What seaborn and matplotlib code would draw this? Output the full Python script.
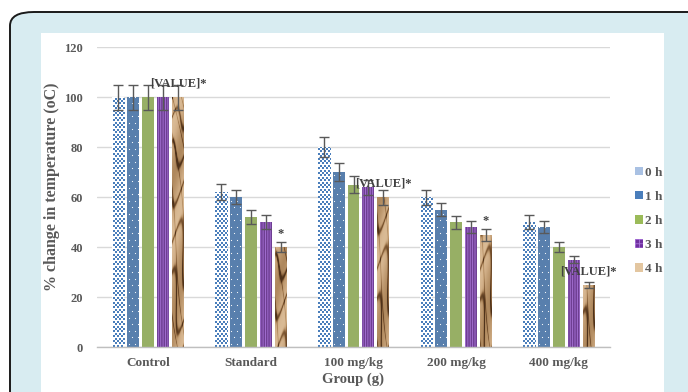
import numpy as np
import pandas as pd
import matplotlib
matplotlib.use("Agg")
import matplotlib.pyplot as plt
import seaborn as sns
from matplotlib.patches import FancyBboxPatch, Rectangle, Patch
from matplotlib.colors import LinearSegmentedColormap

# ---- data ----
groups = ["Control", "Standard", "100 mg/kg", "200 mg/kg", "400 mg/kg"]
times = ["0 h", "1 h", "2 h", "3 h", "4 h"]
values = {
    "0 h": [100, 62, 80, 60, 50],
    "1 h": [100, 60, 70, 55, 48],
    "2 h": [100, 52, 65, 50, 40],
    "3 h": [100, 50, 64, 48, 35],
    "4 h": [100, 40, 60, 45, 25],
}
errors = {
    "0 h": [5, 3.2, 4, 3, 2.7],
    "1 h": [5, 2.8, 3.5, 2.7, 2.3],
    "2 h": [5, 2.7, 3.3, 2.6, 2.0],
    "3 h": [5, 2.7, 3.0, 2.4, 1.5],
    "4 h": [5, 2.1, 3.0, 2.4, 1.2],
}
# significance labels placed above the 4 h bars
bar_labels = {
    ("Control", "4 h"): "[VALUE]*",
    ("Standard", "4 h"): "*",
    ("100 mg/kg", "4 h"): "[VALUE]*",
    ("200 mg/kg", "4 h"): "*",
    ("400 mg/kg", "4 h"): "[VALUE]*",
}

df = pd.DataFrame(
    [(g, t, values[t][i]) for t in times for i, g in enumerate(groups)],
    columns=["group", "time", "value"],
)

# ---- styling ----
sns.set_theme(style="white")
serif = ["Liberation Serif", "DejaVu Serif"]
plt.rcParams["font.family"] = serif
plt.rcParams["hatch.linewidth"] = 0.6
text_col = "#595959"

face = {"0 h": "white", "1 h": "#4a7ebb", "2 h": "#9bbb59", "3 h": "#7030a0", "4 h": "#c9a47a"}

fig = plt.figure(figsize=(6.88, 3.92), dpi=100)
fig.patch.set_facecolor("white")

# rounded card and white panel behind the chart
W, H = 688.0, 392.0
card = FancyBboxPatch((10 / W, -0.2), 1.2, (H - 12) / H + 0.2,
                      boxstyle="round,pad=0,rounding_size=0.035",
                      transform=fig.transFigure, facecolor="#d8ecf1",
                      edgecolor="#1a1a1a", linewidth=1.4, zorder=0)
fig.patches.append(card)
panel = Rectangle((41 / W, 0), (664 - 41) / W, (H - 33) / H,
                  transform=fig.transFigure, facecolor="white",
                  edgecolor="none", zorder=0.5)
fig.patches.append(panel)

ax = fig.add_axes([97 / W, (H - 347) / H, (610 - 97) / W, 300 / H])
ax.set_facecolor("none")
ax.set_zorder(2)

sns.barplot(data=df, x="group", y="value", hue="time", order=groups,
            hue_order=times, palette=[face[t] for t in times],
            width=0.73, gap=0.2, errorbar=None, legend=False, ax=ax,
            linewidth=0, zorder=3)

ax.set_xlim(-0.5, len(groups) - 0.5)
ax.set_ylim(0, 120)
px_x = ax.bbox.width / 5.0      # pixels per category unit
px_y = ax.bbox.height / 120.0   # pixels per value unit


def dot_pattern(bar, dx, dy, shift, size, color, marker):
    """Fill a bar with a staggered grid of small marks, clipped to the bar."""
    x0, w, hgt = bar.get_x(), bar.get_width(), bar.get_height()
    ys = np.arange(dy / 2, hgt * px_y + dy, dy)
    pts = []
    for r, yy in enumerate(ys):
        off = (r % 2) * shift
        for xx in np.arange(off + 1.5, w * px_x + dx, dx):
            pts.append((x0 + xx / px_x, yy / px_y))
    pts = np.array(pts)
    sc = ax.scatter(pts[:, 0], pts[:, 1], s=size, marker=marker, c=color,
                    linewidths=0, zorder=3.6)
    sc.set_clip_path(bar)


# crumpled-paper texture for the 4 h series
tex_cmap = LinearSegmentedColormap.from_list(
    "paper", ["#4e321a", "#7d5733", "#b38d62", "#d2b089", "#e6cdaa"])


def paper_texture(h, w, seed_shift):
    v, u = np.mgrid[0:h, 0:w].astype(float)
    v = v + seed_shift
    phase = 0.08 * v + 1.4 * np.sin(0.3 * u + 0.04 * v) + 2.2 * np.sin(0.016 * v + 0.06 * u)
    crease = np.exp(-(np.sin(phase) / 0.3) ** 2)
    phase2 = 0.05 * v - 0.35 * u + 1.7 * np.sin(0.021 * v)
    crease2 = np.exp(-(np.sin(phase2) / 0.2) ** 2)
    shade = np.sin(0.045 * v + 0.2 * u + 1.3 * np.sin(0.011 * v))
    z = 0.66 + 0.18 * shade - 0.55 * crease - 0.3 * crease2
    return np.clip(z, 0, 1)


for t, cont in zip(times, ax.containers):
    for i, bar in enumerate(cont):
        bar.set_linewidth(0)
        if t == "0 h":
            dot_pattern(bar, 4.0, 2.4, 2.0, 2.0, "#4a7ebb", "s")
        elif t == "1 h":
            dot_pattern(bar, 6.0, 6.5, 3.0, 0.7, "white", "o")
        elif t == "3 h":
            bar.set_edgecolor("#a874d8")
            bar.set_hatch("|||||||")
        elif t == "4 h":
            x0, w = bar.get_x(), bar.get_width()
            hgt = bar.get_height()
            tex = paper_texture(int(hgt * px_y) + 2, int(w * px_x) + 1, 37 * i)
            im = ax.imshow(tex, cmap=tex_cmap, vmin=0, vmax=1,
                           extent=(x0, x0 + w, 0, hgt),
                           aspect="auto", origin="upper", zorder=3.5,
                           interpolation="bilinear")
            im.set_clip_path(bar)
        # error bars
        xc = bar.get_x() + bar.get_width() / 2
        ax.errorbar(xc, values[t][i], yerr=errors[t][i], fmt="none",
                    ecolor="#595959", elinewidth=1.0, capsize=3.5,
                    capthick=1.0, zorder=5)
        lab = bar_labels.get((groups[i], t))
        if lab:
            ax.annotate(lab, (xc, values[t][i]), xytext=(0, 9.5),
                        textcoords="offset points", ha="center", va="center",
                        fontsize=9, fontweight="bold", color="#404040",
                        family=serif, zorder=6)

ax.set_yticks(range(0, 121, 20))
ax.yaxis.grid(True, color="#d9d9d9", linewidth=1.0, zorder=0)
ax.set_axisbelow(True)
for side in ["top", "right", "left"]:
    ax.spines[side].set_visible(False)
ax.spines["bottom"].set_color("#bfbfbf")
ax.spines["bottom"].set_linewidth(1.0)
ax.spines["bottom"].set_zorder(6)
ax.tick_params(axis="both", length=0, labelcolor=text_col)
ax.tick_params(axis="y", pad=10, labelsize=9)
ax.tick_params(axis="x", pad=7, labelsize=9.5)
for lbl in ax.get_xticklabels() + ax.get_yticklabels():
    lbl.set_fontweight("bold")

ax.set_xlabel("Group (g)", fontsize=10.5, fontweight="bold", color=text_col, labelpad=3)
ax.set_ylabel("% change in temperature (oC)", fontsize=11.5, fontweight="bold",
              color=text_col)
ax.yaxis.set_label_coords(-0.073, 0.535)

handles = [
    Patch(facecolor="#a9c1e3", linewidth=0),
    Patch(facecolor="#4a7ebb", linewidth=0),
    Patch(facecolor="#9bbb59", linewidth=0),
    Patch(facecolor="#7030a0", edgecolor="#a874d8", hatch="++++", linewidth=0),
    Patch(facecolor="#e3c6a0", linewidth=0),
]
fig.legend(handles, times, loc="center left", bbox_to_anchor=(623 / W, (H - 221) / H),
           frameon=False, handlelength=0.6, handleheight=0.6, handletextpad=0.2,
           labelspacing=0.92, prop={"family": serif, "weight": "bold", "size": 9.5},
           labelcolor=text_col)

fig.savefig("out.png", dpi=100, facecolor="white")
